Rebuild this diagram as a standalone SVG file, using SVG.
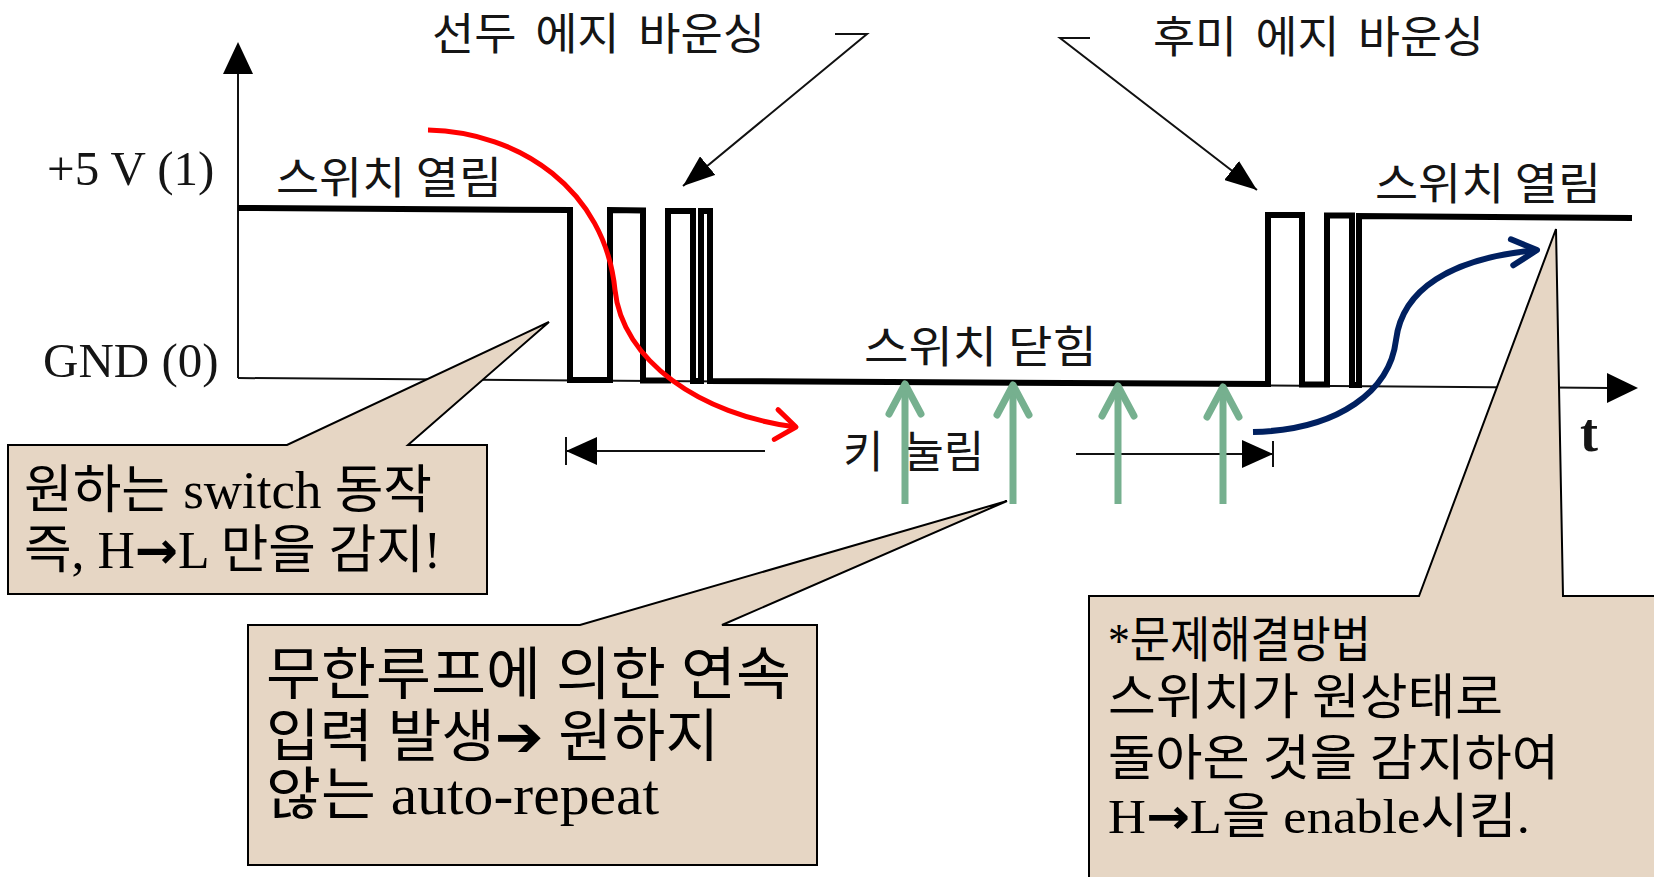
<svg xmlns="http://www.w3.org/2000/svg" width="1654" height="877" viewBox="0 0 1654 877">
<style>
.lbl{font-family:"Noto Sans CJK KR","Noto Sans CJK SC",sans-serif;font-size:44px;fill:#151515;}
.ax{font-family:"Liberation Serif",serif;font-size:49px;fill:#151515;}
.thin{fill:none;stroke:#111;stroke-width:2;}
.wave{fill:none;stroke:#000;stroke-width:6;stroke-linejoin:miter;}
.box{fill:#E6D6C4;stroke:#000;stroke-width:2;}
.bt{font-family:"Liberation Serif","Noto Sans CJK KR",serif;fill:#000;}
.dj{font-family:"DejaVu Sans",sans-serif;}
.djb{font-family:"DejaVu Sans",sans-serif;font-weight:bold;}
.red{fill:none;stroke:#FF0000;stroke-width:5;}
.blue{fill:none;stroke:#002060;stroke-width:6;}
.green{fill:none;stroke:#76B08F;stroke-width:7;}
</style>
<defs>
<marker id="tri" markerUnits="userSpaceOnUse" viewBox="0 0 32 24" refX="32" refY="12" markerWidth="32" markerHeight="24" orient="auto"><path d="M0,0 L32,12 L0,24 Z" fill="#000"/></marker>
<marker id="dim" markerUnits="userSpaceOnUse" viewBox="0 0 31 28" refX="31" refY="14" markerWidth="31" markerHeight="28" orient="auto"><path d="M0,0 L31,14 L0,28 Z" fill="#000"/></marker>
<marker id="chevR" markerUnits="userSpaceOnUse" viewBox="-24 -20 28 40" refX="0" refY="0" markerWidth="28" markerHeight="40" orient="auto" overflow="visible"><path d="M-20,-15 L0,0 L-20,15" fill="none" stroke="#FF0000" stroke-width="5" stroke-linecap="round" stroke-linejoin="round"/></marker>
<marker id="chevB" markerUnits="userSpaceOnUse" viewBox="-30 -18 34 36" refX="0" refY="0" markerWidth="34" markerHeight="36" orient="auto" overflow="visible"><path d="M-25,-13 L0,0 L-25,13" fill="none" stroke="#002060" stroke-width="6" stroke-linecap="round" stroke-linejoin="round"/></marker>
<marker id="chevG" markerUnits="userSpaceOnUse" viewBox="-36 -22 40 44" refX="0" refY="0" markerWidth="40" markerHeight="44" orient="auto" overflow="visible"><path d="M-30,-16 L0,0 L-30,16" fill="none" stroke="#76B08F" stroke-width="7" stroke-linecap="round" stroke-linejoin="round"/></marker>
</defs>
<rect width="1654" height="877" fill="#fff"/>

<g id="axes">
<line class="thin" x1="238" y1="378" x2="238" y2="70"/>
<path d="M238,42 L223,74 L253,74 Z" fill="#000"/>
<line class="thin" x1="238" y1="378" x2="1610" y2="388"/>
<path d="M1638,388 L1607,373 L1607,403 Z" fill="#000"/>
<text class="ax" x="47" y="185">+5 V (1)</text>
<text class="ax" x="43" y="377">GND (0)</text>
<text class="ax" x="1580" y="451" style="font-weight:bold;font-size:54px">t</text>
</g>

<g id="waveform">
<path class="wave" d="M238,208 L570,210 L570,380 L610,380 L610,210 L643,210.5 L643,380.5 L668,380.5 L668,211 L693,211 L693,381 L701,381 L701,211 L710,211 L710,381 L1268,384 L1268,215 L1302,215 L1302,384.5 L1327,384.5 L1327,215.5 L1352,215.5 L1352,385 L1359,385 L1359,216 L1632,218"/>
</g>

<g id="labels">
<text class="lbl" x="432" y="50" word-spacing="8" textLength="333" lengthAdjust="spacingAndGlyphs">선두 에지 바운싱</text>
<text class="lbl" x="1153" y="53" word-spacing="8" textLength="331" lengthAdjust="spacingAndGlyphs">후미 에지 바운싱</text>
<text class="lbl" x="276" y="194" textLength="226" lengthAdjust="spacingAndGlyphs">스위치 열림</text>
<text class="lbl" x="1375" y="200" textLength="226" lengthAdjust="spacingAndGlyphs">스위치 열림</text>
<text class="lbl" x="864" y="363" textLength="233" lengthAdjust="spacingAndGlyphs">스위치 닫힘</text>
<text class="lbl" x="843" y="468">키 <tspan dx="10">눌림</tspan></text>
</g>

<g id="connectors">
<polyline class="thin" points="835,34 867,34 683,186" marker-end="url(#tri)"/>
<polyline class="thin" points="1090,38 1060,38 1257,190" marker-end="url(#tri)"/>
<line class="thin" x1="765" y1="451" x2="566" y2="451" marker-end="url(#dim)"/>
<line class="thin" x1="566" y1="437" x2="566" y2="465"/>
<line class="thin" x1="1076" y1="454" x2="1273" y2="454" marker-end="url(#dim)"/>
<line class="thin" x1="1273" y1="441" x2="1273" y2="467"/>
<path class="red" d="M428,130 C520,132 605,190 615,290 C622,360 700,415 796,427" marker-end="url(#chevR)"/>
<path class="blue" d="M1253,432 C1340,430 1390,390 1396,340 C1402,290 1450,258 1537,250" marker-end="url(#chevB)"/>
<line class="green" x1="905" y1="504" x2="905" y2="384" marker-end="url(#chevG)"/>
<line class="green" x1="1013" y1="504" x2="1013" y2="385" marker-end="url(#chevG)"/>
<line class="green" x1="1118" y1="504" x2="1118" y2="386" marker-end="url(#chevG)"/>
<line class="green" x1="1223" y1="504" x2="1223" y2="387" marker-end="url(#chevG)"/>
</g>

<g id="callout-left">
<path class="box" d="M8,445 H287 L549,322 L408,445 H487 V594 H8 Z"/>
<text class="bt" x="24" y="508" font-size="52" textLength="408" lengthAdjust="spacingAndGlyphs">원하는 switch 동작</text>
<text class="bt" x="24" y="568" font-size="52" textLength="417" lengthAdjust="spacingAndGlyphs">즉, H<tspan class="djb">→</tspan>L 만을 감지!</text>
</g>

<g id="callout-middle">
<path class="box" d="M248,625 H580 L1007,501 L722,625 H817 V865 H248 Z"/>
<text class="bt" x="266" y="694" font-size="57" textLength="525" lengthAdjust="spacingAndGlyphs">무한루프에 의한 연속</text>
<text class="bt" x="266" y="756" font-size="57" textLength="453" lengthAdjust="spacingAndGlyphs">입력 발생<tspan class="dj">➔</tspan> 원하지</text>
<text class="bt" x="266" y="814" font-size="57" textLength="393" lengthAdjust="spacingAndGlyphs">않는 auto-repeat</text>
</g>

<g id="callout-right">
<path class="box" d="M1089,596 H1419 L1556,229 L1563,596 H1660 V882 H1089 Z"/>
<text class="bt" x="1108" y="657" font-size="49" textLength="263" lengthAdjust="spacingAndGlyphs">*문제해결방법</text>
<text class="bt" x="1108" y="714" font-size="49" textLength="395" lengthAdjust="spacingAndGlyphs">스위치가 원상태로</text>
<text class="bt" x="1108" y="775" font-size="49" textLength="451" lengthAdjust="spacingAndGlyphs">돌아온 것을 감지하여</text>
<text class="bt" x="1108" y="833" font-size="49" textLength="422" lengthAdjust="spacingAndGlyphs">H<tspan class="djb">→</tspan>L을 enable시킴.</text>
</g>
</svg>
